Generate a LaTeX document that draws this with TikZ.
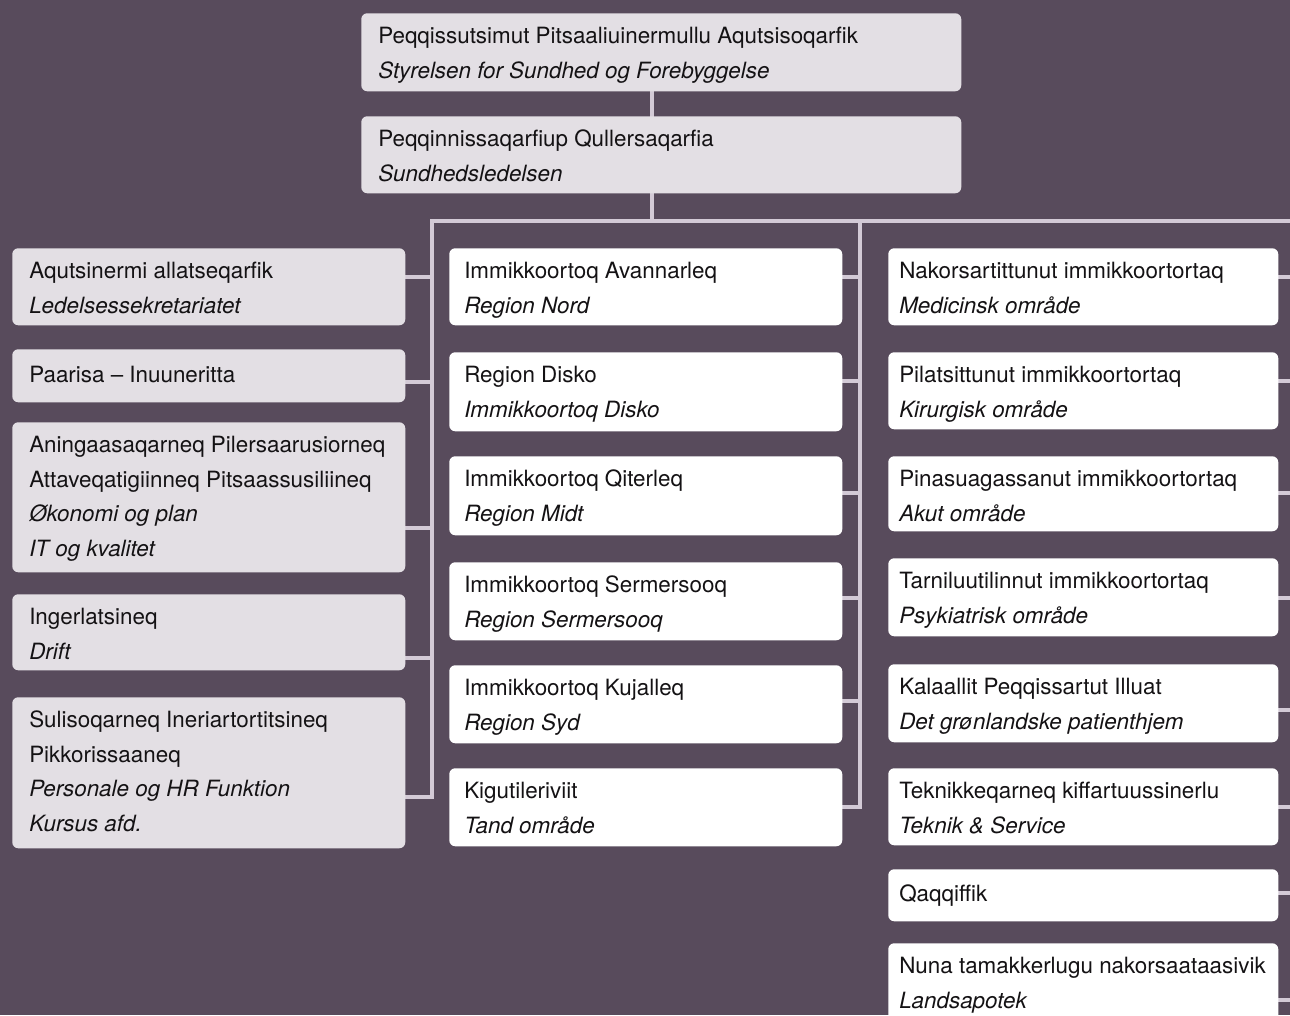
\documentclass[tikz,border=0pt]{standalone}
\usepackage{fontspec}
\setmainfont{TeX Gyre Heros}
\usetikzlibrary{calc,backgrounds}
\definecolor{bg}{HTML}{584B5C}
\definecolor{lgray}{HTML}{E3DFE4}
\definecolor{linkc}{HTML}{D3CAD6}
\definecolor{ink}{HTML}{141214}
\tikzset{
  boxbase/.style={anchor=north west, inner sep=0pt, draw=none, rounded corners=4.5pt},
  graybox/.style={boxbase, fill=lgray},
  whitebox/.style={boxbase, fill=white},
  txt/.style={anchor=base west, inner sep=0pt, text=ink, font=\fontsize{16.8}{20}\selectfont},
  link/.style={draw=linkc, line width=3pt, line cap=rect}
}
\newcommand\ubox[6]{\node[#1, minimum width=#5*0.75pt, minimum height=#6*0.75pt] (#2) at (#3,#4) {};}
\newcommand\txtline[5]{\node[txt] (#1) at ($(#2.north west)+(#3,#4)$) {#5};}
\begin{document}
\begin{tikzpicture}[x=0.75pt,y=-0.75pt]
\useasboundingbox (0,0) rectangle (1290,1015);
\clip (0,0) rectangle (1290,1015);

% boxes
\ubox{graybox}{t1}{361}{13}{600}{78}
\ubox{graybox}{t2}{361}{116}{600}{77}

\ubox{graybox}{l1}{12}{248}{393}{77}
\ubox{graybox}{l2}{12}{349}{393}{53}
\ubox{graybox}{l3}{12}{422}{393}{150}
\ubox{graybox}{l4}{12}{594}{393}{76}
\ubox{graybox}{l5}{12}{697}{393}{151}

\ubox{whitebox}{m1}{449}{248}{393}{77}
\ubox{whitebox}{m2}{449}{352}{393}{79}
\ubox{whitebox}{m3}{449}{456}{393}{79}
\ubox{whitebox}{m4}{449}{562}{393}{78}
\ubox{whitebox}{m5}{449}{665}{393}{78}
\ubox{whitebox}{m6}{449}{768}{393}{78}

\ubox{whitebox}{r1}{888}{248}{390}{77}
\ubox{whitebox}{r2}{888}{352}{390}{77}
\ubox{whitebox}{r3}{888}{456}{390}{75}
\ubox{whitebox}{r4}{888}{558}{390}{78}
\ubox{whitebox}{r5}{888}{664}{390}{78}
\ubox{whitebox}{r6}{888}{768}{390}{77}
\ubox{whitebox}{r7}{888}{869}{390}{52}
\ubox{whitebox}{r8}{888}{943}{390}{80}

% connectors (behind the boxes)
\coordinate (bus) at (652,221);
\coordinate (lt) at (432,221);
\coordinate (mt) at (860,221);
\coordinate (rt) at (1294,221);
\begin{scope}[on background layer]
\fill[bg] (0,0) rectangle (1290,1015);
\draw[link] (t1.south -| bus) -- (t2.north -| bus);
\draw[link] (t2.south -| bus) -- (bus);
\draw[link] (lt) -- (rt);
\draw[link] ($(l1.north east)+(-3,29)$) -| (lt);
\draw[link] ($(l2.north east)+(-3,33)$) -| (lt);
\draw[link] ($(l3.north east)+(-3,106)$) -| (lt);
\draw[link] ($(l4.north east)+(-3,64)$) -| (lt);
\draw[link] ($(l5.north east)+(-3,100)$) -| (lt);
\draw[link] ($(m1.north east)+(-3,29)$) -| (mt);
\draw[link] ($(m2.north east)+(-3,29)$) -| (mt);
\draw[link] ($(m3.north east)+(-3,37)$) -| (mt);
\draw[link] ($(m4.north east)+(-3,36)$) -| (mt);
\draw[link] ($(m5.north east)+(-3,36)$) -| (mt);
\draw[link] ($(m6.north east)+(-3,39)$) -| (mt);
\draw[link] ($(r1.north east)+(-3,29)$) -| (rt);
\draw[link] ($(r2.north east)+(-3,29)$) -| (rt);
\draw[link] ($(r3.north east)+(-3,37)$) -| (rt);
\draw[link] ($(r4.north east)+(-3,40)$) -| (rt);
\draw[link] ($(r5.north east)+(-3,46)$) -| (rt);
\draw[link] ($(r6.north east)+(-3,39)$) -| (rt);
\draw[link] ($(r7.north east)+(-3,24)$) -| (rt);
\draw[link] ($(r8.north east)+(-3,57)$) -| (rt);
\end{scope}

% texts
\txtline{t1a}{t1}{17}{30}{Peqqissutsimut Pitsaaliuinermullu Aqutsisoqarfik}
\txtline{t1b}{t1}{17}{65}{\itshape Styrelsen for Sundhed og Forebyggelse}
\txtline{t2a}{t2}{17}{30}{Peqqinnissaqarfiup Qullersaqarfia}
\txtline{t2b}{t2}{17}{65}{\itshape Sundhedsledelsen}

\txtline{l1a}{l1}{17}{30}{Aqutsinermi allatseqarfik}
\txtline{l1b}{l1}{17}{65}{\itshape Ledelsessekretariatet}
\txtline{l2a}{l2}{17}{33}{Paarisa – Inuuneritta}
\txtline{l3a}{l3}{17}{30}{Aningaasaqarneq Pilersaarusiorneq}
\txtline{l3b}{l3}{17}{65}{Attaveqatigiinneq Pitsaassusiliineq}
\txtline{l3c}{l3}{17}{99}{\itshape Økonomi og plan}
\txtline{l3d}{l3}{17}{134}{\itshape IT og kvalitet}
\txtline{l4a}{l4}{17}{30}{Ingerlatsineq}
\txtline{l4b}{l4}{17}{65}{\itshape Drift}
\txtline{l5a}{l5}{17}{30}{Sulisoqarneq Ineriartortitsineq}
\txtline{l5b}{l5}{17}{65}{Pikkorissaaneq}
\txtline{l5c}{l5}{17}{99}{\itshape Personale og HR Funktion}
\txtline{l5d}{l5}{17}{134}{\itshape Kursus afd.}

\txtline{m1a}{m1}{15}{30}{Immikkoortoq Avannarleq}
\txtline{m1b}{m1}{15}{65}{\itshape Region Nord}
\txtline{m2a}{m2}{15}{30}{Region Disko}
\txtline{m2b}{m2}{15}{65}{\itshape Immikkoortoq Disko}
\txtline{m3a}{m3}{15}{30}{Immikkoortoq Qiterleq}
\txtline{m3b}{m3}{15}{65}{\itshape Region Midt}
\txtline{m4a}{m4}{15}{30}{Immikkoortoq Sermersooq}
\txtline{m4b}{m4}{15}{65}{\itshape Region Sermersooq}
\txtline{m5a}{m5}{15}{30}{Immikkoortoq Kujalleq}
\txtline{m5b}{m5}{15}{65}{\itshape Region Syd}
\txtline{m6a}{m6}{15}{30}{Kigutileriviit}
\txtline{m6b}{m6}{15}{65}{\itshape Tand område}

\txtline{r1a}{r1}{11}{30}{Nakorsartittunut immikkoortortaq}
\txtline{r1b}{r1}{11}{65}{\itshape Medicinsk område}
\txtline{r2a}{r2}{11}{30}{Pilatsittunut immikkoortortaq}
\txtline{r2b}{r2}{11}{65}{\itshape Kirurgisk område}
\txtline{r3a}{r3}{11}{30}{Pinasuagassanut immikkoortortaq}
\txtline{r3b}{r3}{11}{65}{\itshape Akut område}
\txtline{r4a}{r4}{11}{30}{Tarniluutilinnut immikkoortortaq}
\txtline{r4b}{r4}{11}{65}{\itshape Psykiatrisk område}
\txtline{r5a}{r5}{11}{30}{Kalaallit Peqqissartut Illuat}
\txtline{r5b}{r5}{11}{65}{\itshape Det grønlandske patienthjem}
\txtline{r6a}{r6}{11}{30}{Teknikkeqarneq kiffartuussinerlu}
\txtline{r6b}{r6}{11}{65}{\itshape Teknik \& Service}
\txtline{r7a}{r7}{11}{32}{Qaqqiffik}
\txtline{r8a}{r8}{11}{30}{Nuna tamakkerlugu nakorsaataasivik}
\txtline{r8b}{r8}{11}{65}{\itshape Landsapotek}
\end{tikzpicture}
\end{document}
